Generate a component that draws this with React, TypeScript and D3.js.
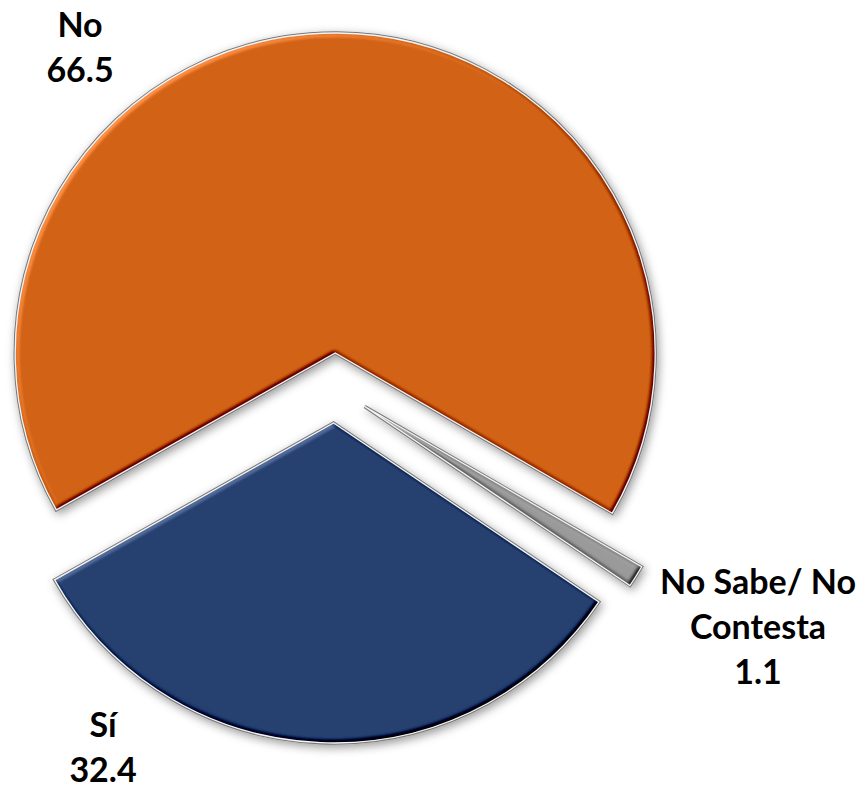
import React from "react";
import * as d3 from "d3";

const categories = ["Sí", "No", "No Sabe/ No Contesta"];
const values = [32.4, 66.5, 1.1];
const valueLabels = ["32.4", "66.5", "1.1"];
const labelLines = [["Sí"], ["No"], ["No Sabe/ No", "Contesta"]];
const colors = ["#253F6F", "#D26317", "#9A9A9A"];

const W = 861;
const H = 787;
const CX = 335;
const CY = 388;
const R = 320;
const EXPLODE = 35;
const START_DEG = 124;
const LINE_H = 45;
const FONT_SIZE = 34;
// label block anchors (x centre, first baseline) relative to pie centre
const labelAnchors = [
  { dx: -232, dy: 349 },
  { dx: -255, dy: -351 },
  { dx: 423, dy: 206 },
];

type Datum = { cat: string; value: number; i: number };

export default function App() {
  const data: Datum[] = categories.map((c, i) => ({ cat: c, value: values[i], i }));
  const start = (START_DEG * Math.PI) / 180;
  const pie = d3
    .pie<Datum>()
    .sort(null)
    .value((d) => d.value)
    .startAngle(start)
    .endAngle(start + 2 * Math.PI);
  const arcs = pie(data);
  const arcGen = d3.arc<d3.PieArcDatum<Datum>>().innerRadius(0).outerRadius(R);

  return (
    <svg
      width={W}
      height={H}
      style={{ position: "absolute", left: 0, top: 0, display: "block", background: "#fff" }}
      fontFamily="Lato, 'Open Sans', sans-serif"
    >
      <defs>
        <filter id="shadow" x="-20%" y="-20%" width="140%" height="140%">
          <feGaussianBlur in="SourceAlpha" stdDeviation="5" />
          <feOffset dx="2" dy="3" result="b" />
          <feFlood floodColor="#000" floodOpacity="0.4" />
          <feComposite in2="b" operator="in" />
          <feMerge>
            <feMergeNode />
            <feMergeNode in="SourceGraphic" />
          </feMerge>
        </filter>
        <filter id="bevel" x="-5%" y="-5%" width="110%" height="110%" colorInterpolationFilters="sRGB">
          <feGaussianBlur in="SourceAlpha" stdDeviation="2.2" result="blur" />
          <feDiffuseLighting in="blur" surfaceScale="4" diffuseConstant="1" lightingColor="#ffffff" result="light">
            <feDistantLight azimuth="225" elevation="45" />
          </feDiffuseLighting>
          <feComposite in="SourceGraphic" in2="light" operator="arithmetic" k1="0" k2="1" k3="0.6" k4="-0.424" result="lit" />
          <feComposite in="lit" in2="SourceAlpha" operator="in" />
        </filter>
      </defs>
      <g filter="url(#shadow)">
        {arcs.map((a) => {
          const mid = (a.startAngle + a.endAngle) / 2;
          const ox = CX + Math.sin(mid) * EXPLODE;
          const oy = CY - Math.cos(mid) * EXPLODE;
          const d = arcGen(a) || "";
          return (
            <g key={a.data.cat} transform={`translate(${ox},${oy})`}>
              <path d={d} fill={colors[a.data.i]} stroke="#7a7a7a" strokeWidth={3.4} strokeLinejoin="miter" />
              <path d={d} fill={colors[a.data.i]} filter="url(#bevel)" />
              <path d={d} fill="none" stroke="#f4f4f4" strokeWidth={1.3} />
            </g>
          );
        })}
      </g>
      {arcs.map((a) => {
        const i = a.data.i;
        const anc = labelAnchors[i];
        const lines = [...labelLines[i], valueLabels[i]];
        return (
          <text
            key={"l" + i}
            x={CX + anc.dx}
            y={CY + anc.dy}
            textAnchor="middle"
            fontWeight="bold"
            fontSize={FONT_SIZE}
            fill="#000"
          >
            {lines.map((t, k) => (
              <tspan key={k} x={CX + anc.dx} y={CY + anc.dy + k * LINE_H}>
                {t}
              </tspan>
            ))}
          </text>
        );
      })}
    </svg>
  );
}
